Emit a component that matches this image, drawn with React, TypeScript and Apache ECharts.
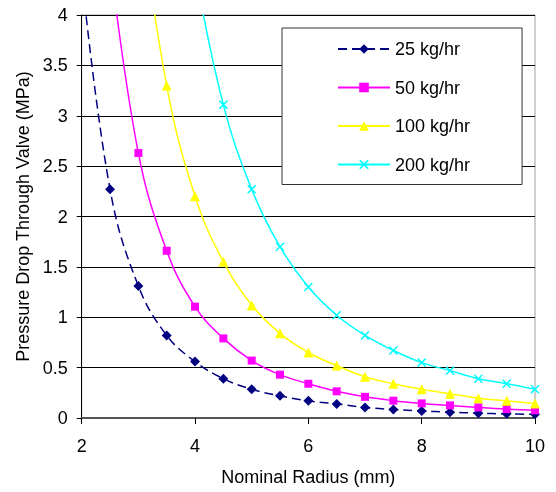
import React, { useEffect, useRef } from "react";
import * as echarts from "echarts";

const radii = [2, 2.5, 3, 3.5, 4, 4.5, 5, 5.5, 6, 6.5, 7, 7.5, 8, 8.5, 9, 9.5, 10];
const p25 = [4.4, 2.27, 1.31, 0.82, 0.56, 0.39, 0.285, 0.22, 0.17, 0.14, 0.105, 0.085, 0.07, 0.058, 0.048, 0.041, 0.036];
const p50 = [null, 4.54, 2.63, 1.66, 1.105, 0.79, 0.57, 0.43, 0.34, 0.265, 0.21, 0.172, 0.145, 0.125, 0.105, 0.088, 0.076];
const p100 = [null, null, 5.2, 3.3, 2.2, 1.55, 1.12, 0.84, 0.65, 0.52, 0.41, 0.34, 0.285, 0.24, 0.197, 0.17, 0.145];
const p200 = [null, null, null, null, 4.44, 3.11, 2.27, 1.7, 1.3, 1.02, 0.82, 0.67, 0.55, 0.47, 0.39, 0.34, 0.285];
const seriesNames = ["25 kg/hr", "50 kg/hr", "100 kg/hr", "200 kg/hr"];
const xTitle = "Nominal Radius (mm)";
const yTitle = "Pressure Drop Through Valve (MPa)";

const FONT = "'Liberation Sans', Arial, sans-serif";
const XMARK = "path://M0,1.2 L1.2,0 L5,3.8 L8.8,0 L10,1.2 L6.2,5 L10,8.8 L8.8,10 L5,6.2 L1.2,10 L0,8.8 L3.8,5 Z";

function pairs(vals: (number | null)[]) {
  return radii.map((x, i) => [x, vals[i]]).filter((p) => p[1] !== null);
}

export default function App() {
  const ref = useRef<HTMLDivElement>(null);
  useEffect(() => {
    if (!ref.current) return;
    const chart = echarts.init(ref.current, undefined, { renderer: "svg" });
    const mk = (name: string, vals: (number | null)[], color: string, symbol: string, size: number, dashed: boolean) => ({
      name,
      type: "line",
      data: pairs(vals),
      smooth: 0.4,
      clip: true,
      symbol,
      symbolSize: size,
      showAllSymbol: true,
      itemStyle: { color },
      lineStyle: { color, width: 1.5, type: dashed ? [9, 5] : "solid" },
      emphasis: { disabled: true },
    });
    chart.setOption({
      animation: false,
      textStyle: { fontFamily: FONT },
      grid: {
        left: 81.7,
        right: 21,
        top: 15,
        bottom: 74,
        show: true,
        borderColor: "#a0a0a0",
        borderWidth: 1,
        backgroundColor: "transparent",
      },
      legend: {
        orient: "vertical",
        left: 282,
        top: 28,
        padding: [11, 52, 10, 55],
        itemWidth: 52,
        itemHeight: 12,
        itemGap: 18.5,
        backgroundColor: "#fff",
        borderColor: "#333",
        borderWidth: 1,
        textStyle: { fontSize: 18, color: "#000", fontFamily: FONT, lineHeight: 20 },
        data: seriesNames,
      },
      xAxis: {
        type: "value",
        min: 2,
        max: 10,
        interval: 2,
        name: xTitle,
        nameLocation: "middle",
        nameGap: 50,
        nameTextStyle: { fontSize: 18, color: "#000", fontFamily: FONT },
        axisLine: { show: true, lineStyle: { color: "#555", width: 2 } },
        axisTick: { show: true, inside: false, length: 6, lineStyle: { color: "#000" } },
        axisLabel: { fontSize: 18, color: "#000", margin: 19, fontFamily: FONT },
        splitLine: { show: false },
      },
      yAxis: {
        type: "value",
        min: 0,
        max: 4,
        interval: 0.5,
        name: yTitle,
        nameLocation: "middle",
        nameGap: 50,
        nameTextStyle: { fontSize: 18, color: "#000", fontFamily: FONT },
        axisLine: { show: true, lineStyle: { color: "#000", width: 1 } },
        axisTick: { show: true, inside: false, length: 5, lineStyle: { color: "#000" } },
        axisLabel: { fontSize: 18, color: "#000", margin: 14, fontFamily: FONT },
        splitLine: { show: true, lineStyle: { color: "#000", width: 1 } },
      },
      series: [
        mk(seriesNames[0], p25, "#000080", "diamond", 10, true),
        mk(seriesNames[1], p50, "#ff00ff", "rect", 8, false),
        mk(seriesNames[2], p100, "#ffff00", "triangle", 10, false),
        mk(seriesNames[3], p200, "#00ffff", XMARK, 9, false),
      ],
    });
    return () => chart.dispose();
  }, []);
  return <div ref={ref} style={{ position: "fixed", left: 0, top: 0, width: 556, height: 492 }} />;
}
